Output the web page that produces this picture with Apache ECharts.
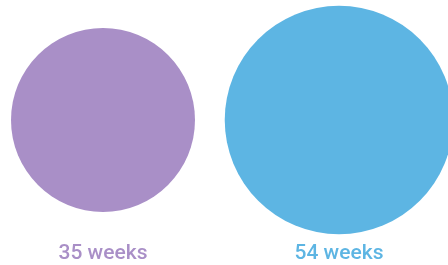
<!DOCTYPE html>
<html>
<head>
<meta charset="utf-8">
<script src="https://cdn.jsdelivr.net/npm/echarts@6/dist/echarts.min.js"></script>
<style>
  html, body { margin: 0; padding: 0; background: #fff; }
  #chart { width: 448px; height: 265px; }
</style>
</head>
<body>
<div id="chart"></div>
<script>
// data
const labels = ["35 weeks", "54 weeks"];
const weeks = [35, 54];
const colors = ["#a98fc7", "#5db5e3"];

const chart = echarts.init(document.getElementById("chart"));

// circle area proportional to weeks
const sizeScale = 31.1;

const option = {
  animation: false,
  grid: { left: -15, right: -9, top: 0, bottom: 25, outerBoundsMode: "none", containLabel: false },
  xAxis: {
    type: "category",
    data: labels,
    axisLine: { show: false },
    axisTick: { show: false },
    axisLabel: {
      margin: 3,
      fontFamily: "Roboto",
      fontSize: 21,
      fontWeight: 500,
      color: (value, index) => colors[index],
    },
  },
  yAxis: {
    type: "value",
    min: 0,
    max: 2,
    show: false,
  },
  series: [
    {
      type: "scatter",
      symbol: "circle",
      data: weeks.map((w, i) => ({
        value: [labels[i], 1],
        weeks: w,
        itemStyle: { color: colors[i], opacity: 1 },
      })),
      symbolSize: (val, params) => sizeScale * Math.sqrt(weeks[params.dataIndex]),
      emphasis: { disabled: true },
    },
  ],
};

chart.setOption(option);
</script>
</body>
</html>
